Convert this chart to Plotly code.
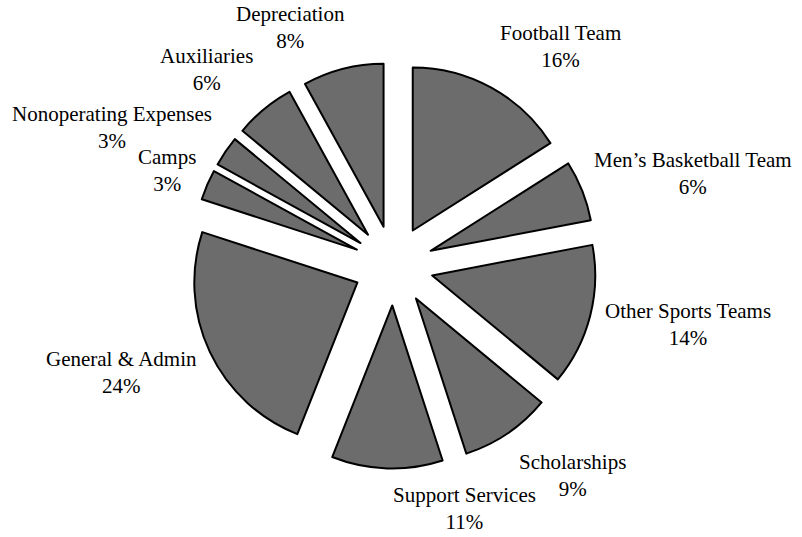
import plotly.graph_objects as go

categories = ["Football Team", "Men\u2019s Basketball Team", "Other Sports Teams", "Scholarships",
              "Support Services", "General & Admin", "Camps", "Nonoperating Expenses",
              "Auxiliaries", "Depreciation"]
values = [16, 6, 14, 9, 11, 24, 3, 3, 6, 8]

# label block centres in pixels (x, y from top) of the 802x537 page
label_px = [(560, 47), (693, 173), (688, 324), (572, 475), (464, 508),
            (122, 372), (167, 170), (112, 127), (206, 69), (290, 28)]

W, H = 802, 537
cx, cy, side = 393.5, 265.5, 406

fig = go.Figure(go.Pie(
    labels=categories,
    values=values,
    sort=False,
    direction="clockwise",
    rotation=0,
    pull=[0.245] * len(values),
    marker=dict(colors=["#6c6c6c"] * len(values), line=dict(color="#000000", width=2)),
    textinfo="none",
    showlegend=False,
    hoverinfo="label+value",
    domain=dict(x=[(cx - side / 2) / W, (cx + side / 2) / W],
                y=[1 - (cy + side / 2) / H, 1 - (cy - side / 2) / H]),
))

annotations = []
for name, v, (px, py) in zip(categories, values, label_px):
    annotations.append(dict(
        x=px / W, y=1 - py / H, xref="paper", yref="paper",
        xanchor="center", yanchor="middle", showarrow=False,
        text=f"{name}<br>{v}%", align="center",
        font=dict(family="Liberation Serif", size=21, color="#000000"),
    ))

fig.update_layout(
    width=W, height=H,
    margin=dict(l=0, r=0, t=0, b=0),
    paper_bgcolor="white",
    plot_bgcolor="white",
    annotations=annotations,
)
fig.write_html("out.html")
